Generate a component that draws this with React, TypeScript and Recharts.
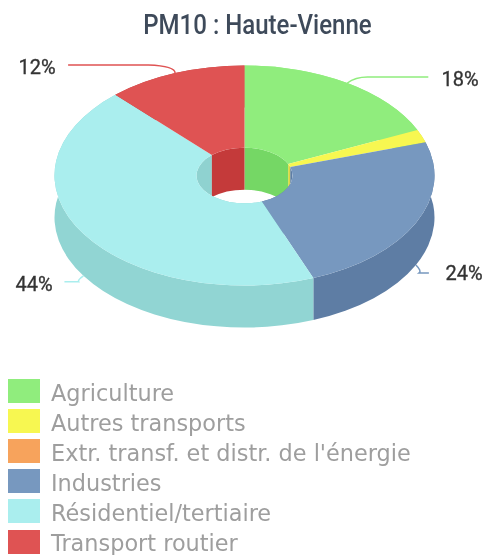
import { PieChart, Pie, Legend } from 'recharts'

const CATEGORIES = ['Agriculture', 'Autres transports', "Extr. transf. et distr. de l'énergie", 'Industries', 'Résidentiel/tertiaire', 'Transport routier']
const VALUES = [18.2, 1.9, 0, 24, 44, 11.9]
const TOP_COLORS = ['#90ED7D', '#F7F751', '#F7A35C', '#7798BF', '#AAEEEE', '#DF5353']
const WALL_COLORS = ['#90ED7D', '#D8D83F', '#D08A4C', '#5E7DA4', '#91D5D3', '#BE4646']
const INNER_COLORS = ['#75D765', '#D8D83F', '#D08A4C', '#5E7DA4', '#8FD2D0', '#C43A3A']

const WIDTH = 487
const HEIGHT = 555
const CX = 244.5
const CY = 175.5
const RX = 190
const RX_INNER = 48
const SQUASH = 0.579
const DEPTH = 42

const data = CATEGORIES.map((name, i) => ({ name, value: VALUES[i] }))

const RAD = Math.PI / 180
const pt = (r: number, a: number, dy = 0) => ({
  x: CX + r * Math.cos(a * RAD),
  y: CY + dy - r * SQUASH * Math.sin(a * RAD),
})

// elliptical arc going clockwise from angle a to angle b (a > b)
const arc = (r: number, a: number, b: number, dy = 0) => {
  const e = pt(r, b, dy)
  return `A${r} ${r * SQUASH} 0 ${a - b > 180 ? 1 : 0} 1 ${e.x} ${e.y}`
}
const arcBack = (r: number, a: number, b: number, dy = 0) => {
  const e = pt(r, a, dy)
  return `A${r} ${r * SQUASH} 0 ${a - b > 180 ? 1 : 0} 0 ${e.x} ${e.y}`
}

const TopSlice = (p: any) => {
  if (Math.abs(p.startAngle - p.endAngle) < 0.01) return <g />
  const a = p.startAngle
  const b = p.endAngle
  const s = pt(RX, a)
  const i = pt(RX_INNER, b)
  const d = `M${s.x} ${s.y}${arc(RX, a, b)}L${i.x} ${i.y}${arcBack(RX_INNER, a, b)}Z`
  return <path d={d} fill={TOP_COLORS[p.index]} />
}

const wallPath = (r: number, a: number, b: number) => {
  const s = pt(r, a)
  const e = pt(r, b, DEPTH)
  return `M${s.x} ${s.y}${arc(r, a, b)}L${e.x} ${e.y}${arcBack(r, a, b, DEPTH)}Z`
}

const OuterWall = (p: any) => {
  if (Math.abs(p.startAngle - p.endAngle) < 0.01) return <g />
  return <path d={wallPath(RX, p.startAngle, p.endAngle)} fill={WALL_COLORS[p.index]} />
}

const InnerWall = (p: any) => {
  if (Math.abs(p.startAngle - p.endAngle) < 0.01) return <g />
  return <path d={wallPath(RX_INNER, p.startAngle, p.endAngle)} fill={INNER_COLORS[p.index]} />
}

// leader line layout: elbow and end offsets from the slice mid point, text position
const LEADERS: Record<string, { dy: number; elbow: [number, number]; end: [number, number]; text: [number, number]; color: string }> = {
  Agriculture: { dy: 0, elbow: [8, -6], end: [81, -6], text: [460, 79], color: '#90ED7D' },
  Industries: { dy: DEPTH, elbow: [6, 6], end: [13, 8], text: [464, 273], color: '#7798BF' },
  'Résidentiel/tertiaire': { dy: DEPTH, elbow: [-6, 4], end: [-19, 6], text: [34, 284], color: '#AAEEEE' },
  'Transport routier': { dy: 0, elbow: [0, -7], end: [-107, -8], text: [37, 67], color: '#DF5353' },
}

const renderLabel = (p: any) => {
  const l = LEADERS[p.name]
  if (!l) return null
  const m = pt(RX, p.midAngle, l.dy)
  const d = `M${m.x} ${m.y}Q${m.x + l.elbow[0]} ${m.y + l.elbow[1]} ${m.x + l.end[0] * 0.25} ${m.y + l.end[1]}L${m.x + l.end[0]} ${m.y + l.end[1]}`
  return (
    <g>
      <path d={d} fill="none" stroke={l.color} strokeWidth={1.5} />
      <text x={l.text[0]} y={l.text[1]} textAnchor="middle" dominantBaseline="central" fontFamily="Roboto, sans-serif" fontSize={20} fill="#333333" stroke="#333333" strokeWidth={0.3}>
        {`${Math.round(VALUES[p.index])}%`}
      </text>
    </g>
  )
}

const LegendList = () => (
  <div style={{ position: 'relative', width: WIDTH, height: HEIGHT }}>
    {CATEGORIES.map((name, i) => (
      <div key={name}>
        <span style={{ width: 32, height: 24, background: TOP_COLORS[i], position: 'absolute', left: 8, top: 379 + i * 30.1 }} />
        <span style={{ position: 'absolute', left: 51, top: 378 + i * 30, whiteSpace: 'nowrap', fontFamily: "'DejaVu Sans', sans-serif", fontSize: 22.4, lineHeight: '30px', color: '#9E9E9E' }}>
          {name}
        </span>
      </div>
    ))}
  </div>
)

export default function App() {
  const pieProps = {
    data,
    dataKey: 'value',
    nameKey: 'name',
    cx: CX,
    cy: CY,
    outerRadius: RX,
    innerRadius: RX_INNER,
    startAngle: 90,
    endAngle: -270,
    stroke: 'none',
    isAnimationActive: false,
    labelLine: false,
  }
  return (
    <div style={{ position: 'absolute', left: 0, top: 0, width: WIDTH, height: HEIGHT, background: '#fff', overflow: 'hidden', filter: 'blur(0.4px)' }}>
      <div style={{ position: 'absolute', left: 0, width: 515, top: 7, textAlign: 'center', fontFamily: 'Roboto, sans-serif', fontWeight: 500, fontSize: 27, lineHeight: '36px', color: '#3E4A5A', transform: 'scaleX(0.89)', transformOrigin: '257.5px 0' }}>
        PM10 : Haute-Vienne
      </div>
      <PieChart width={WIDTH} height={HEIGHT} margin={{ top: 0, right: 0, bottom: 0, left: 0 }} style={{ position: 'absolute', left: 0, top: 0 }}>
        <Pie {...pieProps} shape={InnerWall} label={false} legendType="none" />
        <Pie {...pieProps} shape={OuterWall} label={false} legendType="none" />
        <Pie {...pieProps} shape={TopSlice} label={renderLabel} />
        <Legend content={LegendList} wrapperStyle={{ position: 'absolute', left: 0, top: 0, bottom: 'auto', width: WIDTH, height: HEIGHT }} />
      </PieChart>
    </div>
  )
}
